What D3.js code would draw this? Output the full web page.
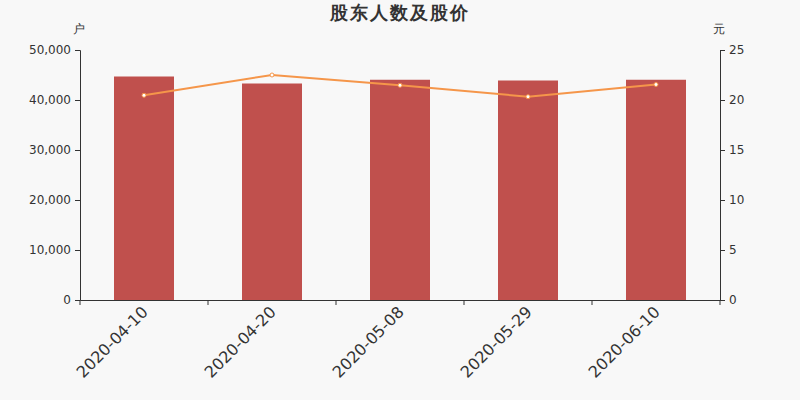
<!DOCTYPE html>
<html>
<head>
<meta charset="utf-8">
<script src="https://cdn.jsdelivr.net/npm/d3@7"></script>
<style>
  body { margin: 0; background: #f8f8f8; }
  svg text { font-family: "DejaVu Sans", sans-serif; }
</style>
</head>
<body>
<svg id="chart" width="800" height="400"></svg>
<script>
// data
const dates = ['2020-04-10', '2020-04-20', '2020-05-08', '2020-05-29', '2020-06-10'];
const holders = [44700, 43300, 44050, 43900, 44050];
const prices = [20.47, 22.5, 21.47, 20.33, 21.55];

const holderTicks = [0, 10000, 20000, 30000, 40000, 50000];
const priceTicks = [0, 5, 10, 15, 20, 25];

const W = 800, H = 400;
const margin = { top: 50, right: 80, bottom: 100, left: 80 };

const svg = d3.select('#chart');

svg.append('rect')
  .attr('width', W)
  .attr('height', H)
  .attr('fill', '#f8f8f8');

const x = d3.scaleBand()
  .domain(dates)
  .range([margin.left, W - margin.right]);

const yLeft = d3.scaleLinear()
  .domain([0, 50000])
  .range([H - margin.bottom, margin.top]);

const yRight = d3.scaleLinear()
  .domain([0, 25])
  .range([H - margin.bottom, margin.top]);

// title
svg.append('text')
  .attr('x', W / 2)
  .attr('y', 19)
  .attr('text-anchor', 'middle')
  .style('font-size', '18px')
  .style('font-weight', 'bold')
  .style('letter-spacing', '2px')
  .style('fill', '#333')
  .text('股东人数及股价');

// axis units
svg.append('text')
  .attr('x', 79)
  .attr('y', 33)
  .attr('text-anchor', 'middle')
  .style('font-size', '12px')
  .style('fill', '#333')
  .text('户');

svg.append('text')
  .attr('x', 719)
  .attr('y', 33)
  .attr('text-anchor', 'middle')
  .style('font-size', '12px')
  .style('fill', '#333')
  .text('元');

// bars
svg.selectAll('.bar')
  .data(holders)
  .enter().append('rect')
  .attr('class', 'bar')
  .attr('x', (d, i) => x(dates[i]) + x.bandwidth() / 2 - 30)
  .attr('width', 60)
  .attr('y', d => yLeft(d))
  .attr('height', d => yLeft(0) - yLeft(d))
  .attr('fill', '#c0504d');

// axes
const axisLeft = svg.append('g')
  .attr('transform', 'translate(' + margin.left + ',0)')
  .call(d3.axisLeft(yLeft).tickValues(holderTicks).tickFormat(d3.format(',')).tickSizeOuter(0).tickSize(5).tickPadding(4));

const axisRight = svg.append('g')
  .attr('transform', 'translate(' + (W - margin.right) + ',0)')
  .call(d3.axisRight(yRight).tickValues(priceTicks).tickSizeOuter(0).tickSize(5).tickPadding(4));

const axisBottom = svg.append('g')
  .attr('transform', 'translate(0,' + (H - margin.bottom) + ')')
  .call(d3.axisBottom(x).tickSizeOuter(0).tickSize(0));

// band boundary ticks like the original
svg.selectAll('.btick')
  .data(d3.range(dates.length + 1))
  .enter().append('line')
  .attr('x1', i => margin.left + i * x.bandwidth())
  .attr('x2', i => margin.left + i * x.bandwidth())
  .attr('y1', H - margin.bottom)
  .attr('y2', H - margin.bottom + 5)
  .attr('stroke', '#333');

axisBottom.selectAll('text')
  .attr('transform', 'translate(5,13) rotate(-45)')
  .style('text-anchor', 'end')
  .attr('dy', 0)
  .attr('x', 0)
  .attr('y', 0)
  .style('font-size', '16px');

[axisLeft, axisRight, axisBottom].forEach(a => {
  a.attr('font-family', null);
  a.select('.domain').attr('stroke', '#333');
  a.selectAll('.tick line').attr('stroke', '#333');
  a.selectAll('text').style('fill', '#333');
});
axisLeft.selectAll('text').style('font-size', '12px');
axisRight.selectAll('text').style('font-size', '12px');

// price line
const line = d3.line()
  .x((d, i) => x(dates[i]) + x.bandwidth() / 2)
  .y(d => yRight(d));

svg.append('path')
  .datum(prices)
  .attr('d', line)
  .attr('fill', 'none')
  .attr('stroke', '#f5964a')
  .attr('stroke-width', 2);

svg.selectAll('.pt')
  .data(prices)
  .enter().append('circle')
  .attr('class', 'pt')
  .attr('cx', (d, i) => x(dates[i]) + x.bandwidth() / 2)
  .attr('cy', d => yRight(d))
  .attr('r', 2)
  .attr('fill', '#fff')
  .attr('stroke', '#f5964a')
  .attr('stroke-width', 1);
</script>
</body>
</html>
